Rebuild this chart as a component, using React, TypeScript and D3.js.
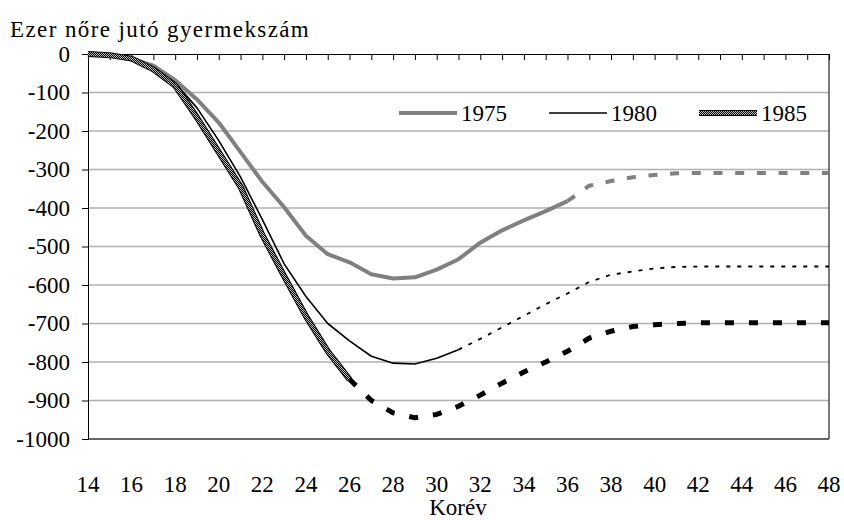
import * as d3 from "d3";
import { useEffect, useRef } from "react";

// age categories (korév)
const ages = [14, 15, 16, 17, 18, 19, 20, 21, 22, 23, 24, 25, 26, 27, 28, 29, 30, 31, 32, 33, 34, 35, 36, 37, 38, 39, 40, 41, 42, 43, 44, 45, 46, 47, 48];
const xTickLabels = [14, 16, 18, 20, 22, 24, 26, 28, 30, 32, 34, 36, 38, 40, 42, 44, 46, 48];
const yTicks = [0, -100, -200, -300, -400, -500, -600, -700, -800, -900, -1000];
const cohorts = ["1975", "1980", "1985"];

// observed part (solid) and projection (dashed), per cohort
const obs1975 = [0, -3, -12, -30, -68, -118, -178, -255, -332, -398, -472, -520, -541, -572, -583, -580, -560, -533, -490, -458, -432, -408, -382];
const proj1975 = [-382, -342, -330, -320, -314, -310, -309, -309, -309, -309, -309, -309, -309];
const obs1980 = [0, -3, -12, -35, -75, -140, -225, -320, -430, -545, -630, -700, -745, -785, -803, -805, -790, -768];
const proj1980 = [-768, -740, -710, -680, -650, -622, -592, -573, -565, -557, -553, -552, -552, -552, -552, -552, -552, -552];
const obs1985 = [0, -3, -12, -40, -82, -165, -255, -345, -470, -577, -681, -772, -845];
const proj1985 = [-845, -900, -932, -945, -936, -915, -886, -855, -826, -800, -772, -738, -720, -708, -703, -700, -698, -698, -698, -698, -698, -698, -698];

const W = 844;
const H = 520;
const left = 88, right = 829, top = 54, bottom = 439;
const font = "'Liberation Serif', 'Times New Roman', serif";
const fs = 23;

export default function App() {
  const xAxisRef = useRef<SVGGElement>(null);
  const yAxisRef = useRef<SVGGElement>(null);

  const x = d3.scaleLinear().domain([14, 48]).range([left, right]);
  const y = d3.scaleLinear().domain([-1000, 0]).range([bottom, top]);

  // build path from values starting at a given age
  const path = (vals: number[], startAge: number) => {
    const idx = ages.indexOf(startAge);
    const pts: [number, number][] = vals.map((v, i) => [x(ages[idx + i]), y(v)]);
    return d3.line()(pts) || "";
  };

  useEffect(() => {
    const xa = d3.axisBottom(x).tickValues(ages).tickSize(6).tickFormat(() => "");
    const gx = d3.select(xAxisRef.current!).call(xa as any);
    gx.select(".domain").attr("stroke", "#000");
    gx.selectAll(".tick line").attr("stroke", "#000");

    const ya = d3.axisLeft(y).tickValues(yTicks).tickSize(6).tickPadding(12).tickFormat((d) => String(d));
    const gy = d3.select(yAxisRef.current!).call(ya as any);
    gy.attr("font-family", font).attr("font-size", fs);
    gy.select(".domain").attr("stroke", "#000");
    gy.selectAll(".tick line").attr("stroke", "#000");
    gy.selectAll(".tick text").attr("fill", "#000");
  }, []);

  // legend: equal entries, 150px apart
  const legX = [399, 549, 699];

  return (
    <svg width={W} height={H} style={{ position: "absolute", left: 0, top: 0 }}>
      <defs>
        <pattern id="chk" width="2" height="2" patternUnits="userSpaceOnUse">
          <rect width="2" height="2" fill="#000" />
          <rect width="1" height="1" fill="#bbb" />
          <rect x="1" y="1" width="1" height="1" fill="#bbb" />
        </pattern>
      </defs>
      <rect width={W} height={H} fill="#fff" />
      <text x={10} y={37} fontFamily={font} fontSize={fs} letterSpacing={1.4} fill="#000">Ezer nőre jutó gyermekszám</text>

      {/* grid */}
      {yTicks.slice(1, -1).map((t) => (
        <line key={t} x1={left} x2={right} y1={y(t)} y2={y(t)} stroke="#b0b0b0" strokeWidth={1.3} />
      ))}
      <line x1={left} x2={right} y1={bottom} y2={bottom} stroke="#333" strokeWidth={1.3} />
      <line x1={right} x2={right} y1={top} y2={bottom} stroke="#333" strokeWidth={1.3} />

      <g ref={yAxisRef} transform={`translate(${left},0)`} />
      <g ref={xAxisRef} transform={`translate(0,${top})`} />

      {/* 1975 */}
      <path d={path(obs1975, 14)} fill="none" stroke="#808080" strokeWidth={4} strokeLinejoin="round" />
      <path d={path(proj1975, 36)} fill="none" stroke="#808080" strokeWidth={4} strokeDasharray="9,12.7" />
      {/* 1980 */}
      <path d={path(obs1980, 14)} fill="none" stroke="#000" strokeWidth={1.6} strokeLinejoin="round" />
      <path d={path(proj1980, 31)} fill="none" stroke="#000" strokeWidth={1.8} strokeDasharray="4,7" />
      {/* 1985 */}
      <path d={path(obs1985, 14)} fill="none" stroke="#000" strokeWidth={6} strokeLinejoin="round" />
      <path d={path(obs1985, 14)} fill="none" stroke="url(#chk)" strokeWidth={4} strokeLinejoin="round" />
      <path d={path(proj1985, 26)} fill="none" stroke="#000" strokeWidth={5} strokeDasharray="9,15" />

      {/* legend */}
      <line x1={legX[0]} x2={legX[0] + 58} y1={113} y2={113} stroke="#808080" strokeWidth={4} />
      <line x1={legX[1]} x2={legX[1] + 58} y1={113} y2={113} stroke="#000" strokeWidth={1.6} />
      <line x1={legX[2]} x2={legX[2] + 58} y1={113} y2={113} stroke="#000" strokeWidth={6} />
      <line x1={legX[2]} x2={legX[2] + 58} y1={113} y2={113} stroke="url(#chk)" strokeWidth={4} />
      {cohorts.map((c, i) => (
        <text key={c} x={legX[i] + 62} y={121} fontFamily={font} fontSize={fs}>{c}</text>
      ))}

      {/* x labels */}
      {xTickLabels.map((t) => (
        <text key={t} x={x(t)} y={492} textAnchor="middle" fontFamily={font} fontSize={fs}>{t}</text>
      ))}
      <text x={458} y={515} textAnchor="middle" fontFamily={font} fontSize={fs}>Korév</text>
    </svg>
  );
}
